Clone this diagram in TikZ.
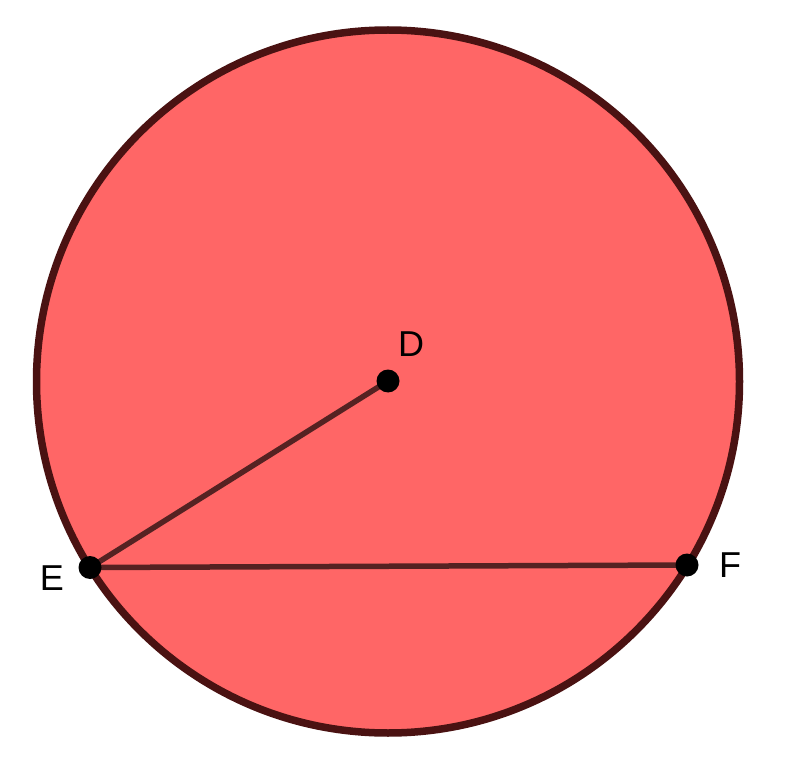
\documentclass[tikz,border=0pt]{standalone}
\usepackage{fontspec}
\setmainfont{Liberation Sans}
\definecolor{fillred}{HTML}{FF6666}
\definecolor{rimred}{HTML}{4A1212}
\definecolor{segred}{HTML}{552222}
\begin{document}
\begin{tikzpicture}[x=1pt,y=-1pt,
  rim/.style={draw=rimred,line width=7.5pt,fill=fillred},
  seg/.style={draw=segred,line width=5.5pt},
  pt/.style={circle,fill=black,inner sep=0pt,minimum size=23pt},
  lbl/.style={font=\fontsize{36}{40}\selectfont,text=black,inner sep=0pt}]
\useasboundingbox (0,0) rectangle (785,762);
\coordinate (O) at (388,381.5);
\draw[rim] (O) circle[radius=351.5];
\coordinate (Dc) at (388,381);
\coordinate (Ec) at (90,567.5);
\coordinate (Fc) at (687,565);
\draw[seg] (Dc) -- (Ec);
\draw[seg] (Ec) -- (Fc);
\node[pt] (D) at (Dc) {};
\node[pt] (E) at (Ec) {};
\node[pt] (F) at (Fc) {};
\node[lbl] (lD) at (411,344) {D};
\node[lbl] (lE) at (52,578) {E};
\node[lbl] (lF) at (730,565) {F};
\end{tikzpicture}
\end{document}
